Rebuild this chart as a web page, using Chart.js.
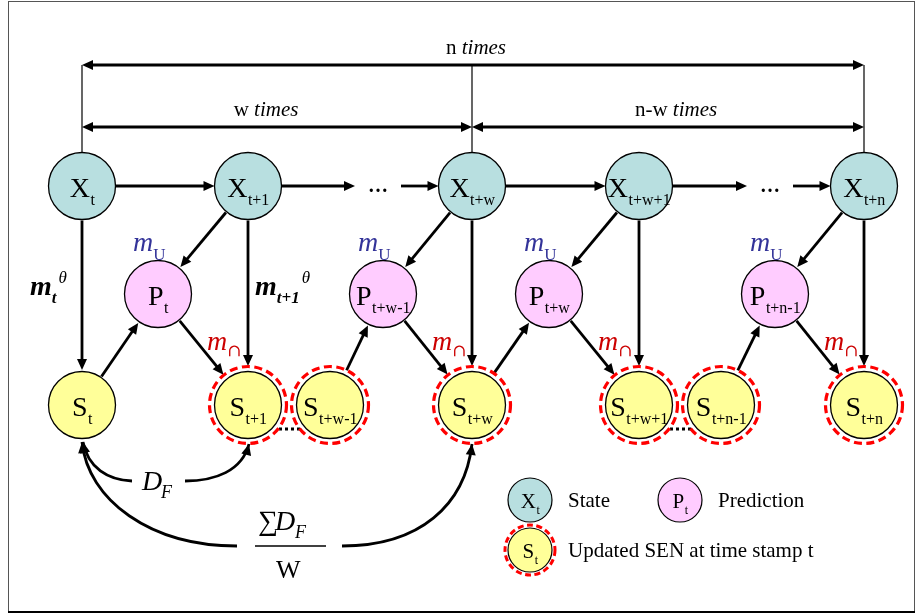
<!DOCTYPE html>
<html>
<head>
<meta charset="utf-8">
<script src="https://cdn.jsdelivr.net/npm/chart.js@4"></script>
<style>
  html, body { margin: 0; padding: 0; background: #fff; }
  #wrap { width: 917px; height: 615px; }
</style>
</head>
<body>
<div id="wrap"><canvas id="diagram" width="917" height="615"></canvas></div>
<script>
// nodes of the network (letter, subscript, centre)
const NODE_LETTER = ['X','X','X','X','X','P','P','P','P','S','S','S','S','S','S','S'];
const NODE_SUB = ['t','t+1','t+w','t+w+1','t+n','t','t+w-1','t+w','t+n-1','t','t+1','t+w-1','t+w','t+w+1','t+n-1','t+n'];
const NODE_X = [82, 248, 472, 639, 864, 158, 383, 549, 775, 82, 248, 330, 472, 639, 721, 864];
const NODE_Y = [186, 186, 186, 186, 186, 294, 294, 294, 294, 405, 405, 405, 405, 405, 405, 405];
const UPDATED = [10, 11, 12, 13, 14, 15];

// state chain with the "..." gaps
const CHAIN = [0, 1, 'g0', 2, 3, 'g1', 4];
const GAP_X = [378, 770];

// arrows between nodes
const EDGES = [
    [0, 9], [1, 10], [2, 12], [3, 13], [4, 15],      // X -> S
    [1, 5], [2, 6], [3, 7], [4, 8],                  // X -> P
    [9, 5], [11, 6], [12, 7], [14, 8],               // S -> P
    [5, 10], [6, 12], [7, 13], [8, 15]               // P -> S
];
const DOTTED = [[10, 11], [13, 14]];

// time brackets
const BRACKET_FROM = [0, 0, 2];
const BRACKET_TO = [4, 2, 4];
const BRACKET_LABEL = ['n', 'w', 'n-w'];
const BRACKET_LEVEL = [0, 1, 1];

// message labels
const MU_NODES = [5, 6, 7, 8];
const MCAP_NODES = [5, 6, 7, 8];
const THETA_NODES = [0, 1];
const THETA_SUB = ['t', 't+1'];

const LEGEND_LETTER = ['X', 'P', 'S'];
const LEGEND_TEXT = ['State', 'Prediction', 'Updated SEN at time stamp t'];

const FILL = { X: '#b8dfe0', P: '#ffccff', S: '#ffff99' };
const SERIF = '"Liberation Serif", "Times New Roman", "DejaVu Serif", serif';
const R = 33.5, RING = 38.5;

function kindPoints(k) {
    const pts = [];
    NODE_LETTER.forEach((l, i) => { if (l === k) pts.push({ x: NODE_X[i], y: NODE_Y[i] }); });
    return pts;
}

function head(ctx, x, y, a, len, hw) {
    ctx.beginPath();
    ctx.moveTo(x, y);
    ctx.lineTo(x - len * Math.cos(a) + hw * Math.sin(a), y - len * Math.sin(a) - hw * Math.cos(a));
    ctx.lineTo(x - len * Math.cos(a) - hw * Math.sin(a), y - len * Math.sin(a) + hw * Math.cos(a));
    ctx.closePath();
    ctx.fill();
}

function arrow(ctx, x1, y1, x2, y2, lw, both) {
    const a = Math.atan2(y2 - y1, x2 - x1);
    const len = 11, hw = 5;
    ctx.lineWidth = lw || 2.5;
    ctx.beginPath();
    ctx.moveTo(both ? x1 + (len - 2) * Math.cos(a) : x1, both ? y1 + (len - 2) * Math.sin(a) : y1);
    ctx.lineTo(x2 - (len - 2) * Math.cos(a), y2 - (len - 2) * Math.sin(a));
    ctx.stroke();
    head(ctx, x2, y2, a, len, hw);
    if (both) head(ctx, x1, y1, a + Math.PI, len, hw);
}

function curveArrow(ctx, p0, c1, c2, p3) {
    // arrow head sits on p0
    ctx.lineWidth = 2.8;
    ctx.beginPath();
    ctx.moveTo(p0[0], p0[1]);
    ctx.bezierCurveTo(c1[0], c1[1], c2[0], c2[1], p3[0], p3[1]);
    ctx.stroke();
    head(ctx, p0[0], p0[1], Math.atan2(p0[1] - c1[1], p0[0] - c1[0]), 11, 5);
}

function subText(ctx, main, sub, cx, cy, size, subSize, style) {
    const st = style || '';
    ctx.font = st + size + 'px ' + SERIF;
    const w1 = ctx.measureText(main).width;
    ctx.font = st + subSize + 'px ' + SERIF;
    const w2 = ctx.measureText(sub).width;
    const x0 = cx - (w1 + w2) / 2;
    const base = cy + size * 0.38;
    ctx.textAlign = 'left';
    ctx.textBaseline = 'alphabetic';
    ctx.font = st + size + 'px ' + SERIF;
    ctx.fillText(main, x0, base);
    ctx.font = st + subSize + 'px ' + SERIF;
    ctx.fillText(sub, x0 + w1 + 0.5, base + size * 0.29);
}

function ring(ctx, x, y, r, lw, dash) {
    ctx.save();
    ctx.strokeStyle = '#ff0000';
    ctx.lineWidth = lw;
    ctx.setLineDash(dash);
    ctx.beginPath();
    ctx.arc(x, y, r, 0, Math.PI * 2);
    ctx.stroke();
    ctx.restore();
}

const diagramPlugin = {
    id: 'diagram',
    beforeDatasetsDraw(chart) {
        const ctx = chart.ctx;
        const sx = chart.scales.x, sy = chart.scales.y;
        const px = v => sx.getPixelForValue(v), py = v => sy.getPixelForValue(v);
        ctx.save();

        // frame
        ctx.strokeStyle = '#555';
        ctx.lineWidth = 1;
        ctx.strokeRect(8.5, 1.5, 906, 610);
        ctx.strokeStyle = '#000';
        ctx.lineWidth = 2;
        ctx.beginPath(); ctx.moveTo(8, 612); ctx.lineTo(915, 612); ctx.stroke();

        ctx.strokeStyle = '#000';
        ctx.fillStyle = '#000';

        // time brackets
        const levelY = [65, 127];
        [0, 2, 4].forEach(i => {
            ctx.lineWidth = 1.2;
            ctx.beginPath();
            ctx.moveTo(px(NODE_X[i]), py(levelY[0]));
            ctx.lineTo(px(NODE_X[i]), py(NODE_Y[i]) - R);
            ctx.stroke();
        });
        BRACKET_FROM.forEach((f, i) => {
            const y = py(levelY[BRACKET_LEVEL[i]]);
            const x1 = px(NODE_X[f]), x2 = px(NODE_X[BRACKET_TO[i]]);
            arrow(ctx, x1, y, x2, y, 2.8, true);
            const shift = [3, -11, 8][i];
            ctx.font = '21px ' + SERIF;
            const wa = ctx.measureText(BRACKET_LABEL[i] + ' ').width;
            ctx.font = 'italic 21px ' + SERIF;
            const wb = ctx.measureText('times').width;
            const x0 = (x1 + x2) / 2 + shift - (wa + wb) / 2;
            ctx.textAlign = 'left';
            ctx.font = '21px ' + SERIF;
            ctx.fillText(BRACKET_LABEL[i] + ' ', x0, y - 11);
            ctx.font = 'italic 21px ' + SERIF;
            ctx.fillText('times', x0 + wa, y - 11);
        });

        // state chain
        const cx = n => typeof n === 'string' ? px(GAP_X[+n.slice(1)]) : px(NODE_X[n]);
        const gapR = 23;
        for (let i = 0; i < CHAIN.length - 1; i++) {
            const a = CHAIN[i], b = CHAIN[i + 1];
            const ra = typeof a === 'string' ? gapR : R;
            const rb = typeof b === 'string' ? gapR : R;
            const y = py(NODE_Y[0]);
            arrow(ctx, cx(a) + ra, y, cx(b) - rb, y, 2.8);
        }
        ctx.font = 'bold 20px ' + SERIF;
        ctx.textAlign = 'center';
        GAP_X.forEach(g => ctx.fillText('\u2026', px(g), py(NODE_Y[0]) + 6));

        // node to node arrows
        EDGES.forEach(([a, b]) => {
            const x1 = px(NODE_X[a]), y1 = py(NODE_Y[a]);
            const x2 = px(NODE_X[b]), y2 = py(NODE_Y[b]);
            const d = Math.hypot(x2 - x1, y2 - y1);
            const ux = (x2 - x1) / d, uy = (y2 - y1) / d;
            const rs = UPDATED.includes(a) ? RING : R + 1;
            const rt = UPDATED.includes(b) ? RING + 0.5 : R + 1.5;
            arrow(ctx, x1 + ux * rs, y1 + uy * rs, x2 - ux * rt, y2 - uy * rt, 2.8);
        });

        // dotted links between updated nodes
        ctx.save();
        ctx.lineWidth = 3;
        ctx.setLineDash([3, 3]);
        DOTTED.forEach(([a, b]) => {
            const m = (px(NODE_X[a]) + px(NODE_X[b])) / 2;
            const y = py(NODE_Y[a]) + 24;
            ctx.beginPath(); ctx.moveTo(m - 10, y); ctx.lineTo(m + 11, y); ctx.stroke();
        });
        ctx.restore();

        // feedback curves under the S row
        const s0x = px(NODE_X[9]), sy0 = py(NODE_Y[9]);
        const s1x = px(NODE_X[10]), s2x = px(NODE_X[12]);
        curveArrow(ctx, [s0x + 1, sy0 + 37], [s0x + 6, sy0 + 63], [s0x + 26, sy0 + 75], [s0x + 50, sy0 + 76]);
        curveArrow(ctx, [s1x + 1, sy0 + 39], [s1x - 6, sy0 + 66], [s1x - 33, sy0 + 76], [s1x - 63, sy0 + 76]);
        curveArrow(ctx, [s0x, sy0 + 37], [s0x + 6, sy0 + 95], [s0x + 68, sy0 + 141], [s0x + 155, sy0 + 141]);
        curveArrow(ctx, [s2x, sy0 + 39], [s2x - 7, sy0 + 100], [s2x - 52, sy0 + 141], [s2x - 130, sy0 + 141]);

        ctx.restore();
    },
    afterDatasetsDraw(chart) {
        const ctx = chart.ctx;
        const sx = chart.scales.x, sy = chart.scales.y;
        const px = v => sx.getPixelForValue(v), py = v => sy.getPixelForValue(v);
        ctx.save();

        UPDATED.forEach(i => ring(ctx, px(NODE_X[i]), py(NODE_Y[i]), RING, 3.2, [8, 4.5]));

        ctx.fillStyle = '#000';
        NODE_LETTER.forEach((l, i) => subText(ctx, l, NODE_SUB[i], px(NODE_X[i]), py(NODE_Y[i]), 28, 16));

        // m theta labels
        THETA_NODES.forEach((n, k) => {
            const x = px(NODE_X[n]) + (k === 0 ? -52 : 7);
            const y = py(295);
            ctx.textAlign = 'left';
            ctx.font = 'bold italic 28px ' + SERIF;
            ctx.fillText('m', x, y);
            let w = ctx.measureText('m').width;
            ctx.font = 'bold italic 17px ' + SERIF;
            ctx.fillText(THETA_SUB[k], x + w, y + 8);
            w += ctx.measureText(THETA_SUB[k]).width;
            ctx.font = 'italic 17px ' + SERIF;
            ctx.fillText('\u03b8', x + w + 2, y - 12);
        });

        // m_U labels
        MU_NODES.forEach(n => {
            const x = px(NODE_X[n]) - 25, y = py(NODE_Y[n] - 43);
            ctx.fillStyle = '#333399';
            ctx.font = 'italic 28px ' + SERIF;
            ctx.fillText('m', x, y);
            const w = ctx.measureText('m').width;
            ctx.font = '17px ' + SERIF;
            ctx.fillText('U', x + w, y + 9);
        });
        // m_cap labels
        MCAP_NODES.forEach(n => {
            const x = px(NODE_X[n]) + 49, y = py(NODE_Y[n] + 56);
            ctx.fillStyle = '#cc0000';
            ctx.font = 'italic 28px ' + SERIF;
            ctx.fillText('m', x, y);
            const w = ctx.measureText('m').width;
            ctx.font = '17px "DejaVu Serif", ' + SERIF;
            ctx.fillText('\u2229', x + w, y + 6);
        });

        // feedback labels
        ctx.fillStyle = '#000';
        ctx.font = 'italic 28px ' + SERIF;
        ctx.fillText('D', 142, 490);
        ctx.font = 'italic 18px ' + SERIF;
        ctx.fillText('F', 161, 498);
        ctx.font = '28px ' + SERIF;
        ctx.fillText('\u2211', 258, 530);
        ctx.font = 'italic 28px ' + SERIF;
        ctx.fillText('D', 275, 530);
        ctx.font = 'italic 18px ' + SERIF;
        ctx.fillText('F', 295, 538);
        ctx.lineWidth = 1.6;
        ctx.strokeStyle = '#000';
        ctx.beginPath(); ctx.moveTo(255, 546); ctx.lineTo(326, 546); ctx.stroke();
        ctx.font = '26px ' + SERIF;
        ctx.fillText('W', 276, 578);

        // legend
        const lx = [530, 680, 530], ly = [500, 500, 550], tx = [568, 718, 568];
        LEGEND_LETTER.forEach((l, i) => {
            subText(ctx, l, 't', lx[i], ly[i], 21, 12);
            ctx.font = '21px ' + SERIF;
            ctx.textAlign = 'left';
            ctx.fillText(LEGEND_TEXT[i], tx[i], ly[i] + 7);
        });
        ring(ctx, 530, 550, 25, 3, [6, 3.5]);

        ctx.restore();
    }
};

const nodeSet = (k, r) => ({
    data: kindPoints(k),
    pointRadius: r,
    pointBackgroundColor: FILL[k],
    pointBorderColor: '#000',
    pointBorderWidth: 1.3,
    pointHoverRadius: r
});

new Chart(document.getElementById('diagram'), {
    type: 'scatter',
    data: {
        datasets: [
            nodeSet('X', R), nodeSet('P', R), nodeSet('S', R),
            {
                data: [{ x: 530, y: 500 }, { x: 680, y: 500 }, { x: 530, y: 550 }],
                pointRadius: 22,
                pointBackgroundColor: [FILL.X, FILL.P, FILL.S],
                pointBorderColor: '#000',
                pointBorderWidth: 1.2
            }
        ]
    },
    options: {
        responsive: false,
        animation: false,
        events: [],
        layout: { padding: 0, autoPadding: false },
        plugins: { legend: { display: false }, tooltip: { enabled: false } },
        scales: {
            x: { type: 'linear', min: 0, max: 917, display: false },
            y: { type: 'linear', min: 0, max: 615, reverse: true, display: false }
        }
    },
    plugins: [diagramPlugin]
});
</script>
</body>
</html>
